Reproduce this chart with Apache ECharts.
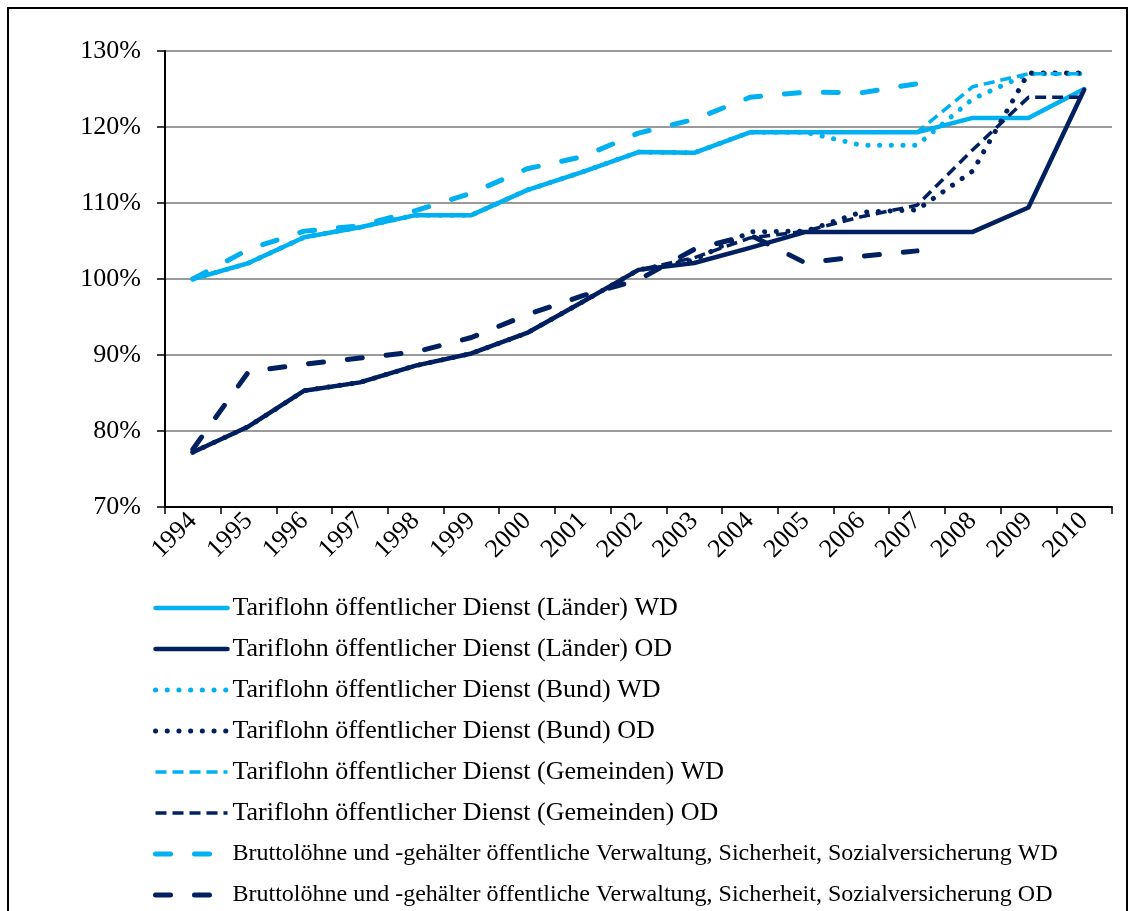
<!DOCTYPE html>
<html>
<head>
<meta charset="utf-8">
<script src="https://cdn.jsdelivr.net/npm/echarts@6/dist/echarts.min.js"></script>
<style>
  html, body { margin: 0; padding: 0; background: #fff; }
  #chart { width: 1130px; height: 911px; }
</style>
</head>
<body>
<div id="chart"></div>
<script>
const years = ['1994', '1995', '1996', '1997', '1998', '1999', '2000', '2001', '2002',
  '2003', '2004', '2005', '2006', '2007', '2008', '2009', '2010']

// Index in %
const laenderWD = [100.0, 102.1, 105.5, 106.8, 108.4, 108.4, 111.7, 114.1, 116.7, 116.6, 119.3, 119.3, 119.3, 119.3, 121.2, 121.2, 125.0]
const laenderOD = [77.2, 80.6, 85.3, 86.4, 88.6, 90.2, 92.9, 97.0, 101.2, 102.1, 104.1, 106.2, 106.2, 106.2, 106.2, 109.4, 124.9]
const bundWD = [100.0, 102.1, 105.5, 106.8, 108.4, 108.4, 111.7, 114.1, 116.7, 116.6, 119.3, 119.3, 117.6, 117.6, 123.7, 127.0, 127.0]
const bundOD = [77.2, 80.6, 85.3, 86.4, 88.6, 90.2, 92.9, 97.0, 101.2, 102.5, 106.2, 106.3, 108.8, 109.1, 114.2, 127.1, 127.1]
const gemWD = [100.0, 102.1, 105.5, 106.8, 108.4, 108.4, 111.7, 114.1, 116.7, 116.6, 119.3, 119.3, 119.3, 119.3, 125.3, 127.0, 127.0]
const gemOD = [77.2, 80.6, 85.3, 86.4, 88.6, 90.2, 92.9, 97.0, 101.2, 102.8, 105.4, 106.3, 108.2, 109.7, 117.0, 123.9, 123.9]
const bruttoWD = [100.0, 103.9, 106.3, 107.0, 109.0, 111.3, 114.5, 116.1, 119.2, 121.0, 123.9, 124.6, 124.5, 125.7, null, null, null]
const bruttoOD = [77.6, 87.8, 88.8, 89.6, 90.4, 92.3, 95.3, 97.8, 99.9, 103.9, 105.8, 102.1, 103.0, 103.7, null, null, null]

const seriesNames = [
  'Tariflohn öffentlicher Dienst (Länder) WD',
  'Tariflohn öffentlicher Dienst (Länder) OD',
  'Tariflohn öffentlicher Dienst (Bund) WD',
  'Tariflohn öffentlicher Dienst (Bund) OD',
  'Tariflohn öffentlicher Dienst (Gemeinden) WD',
  'Tariflohn öffentlicher Dienst (Gemeinden) OD',
  'Bruttolöhne und -gehälter öffentliche Verwaltung, Sicherheit, Sozialversicherung WD',
  'Bruttolöhne und -gehälter öffentliche Verwaltung, Sicherheit, Sozialversicherung OD',
]

const LIGHT = '#00b0f0'
const DARK = '#002060'
const FONT = '"Liberation Serif", "Times New Roman", serif'

const solid = { type: 'solid', width: 4.5, cap: 'round', join: 'round' }
const dotted = { type: [0.1, 11.6], width: 5, cap: 'round', join: 'round' }
const shortDash = { type: [11, 6], width: 3.5, cap: 'butt', join: 'round' }
const longDash = { type: [15, 24], width: 5, cap: 'round', join: 'round' }

function line(name, data, color, style) {
  return {
    name,
    type: 'line',
    data,
    symbol: 'none',
    color,
    lineStyle: { ...style, color },
    emphasis: { disabled: true },
    animation: false,
  }
}

const chart = echarts.init(document.getElementById('chart'))
chart.setOption({
  backgroundColor: '#fff',
  textStyle: { fontFamily: FONT },
  grid: { left: 165, right: 18, top: 51, bottom: 404, containLabel: false },
  xAxis: {
    type: 'category',
    data: years,
    boundaryGap: true,
    axisLine: { lineStyle: { color: '#000', width: 2 } },
    axisTick: { show: true, length: 7, lineStyle: { color: '#000', width: 1.5 } },
    axisLabel: { rotate: 45, color: '#000', fontSize: 26, fontFamily: FONT, margin: 10 },
  },
  yAxis: {
    type: 'value',
    min: 70,
    max: 130,
    interval: 10,
    axisLine: { show: true, lineStyle: { color: '#000', width: 2 } },
    axisTick: { show: true, length: 8, lineStyle: { color: '#000', width: 1.5 } },
    axisLabel: { formatter: '{value}%', color: '#000', fontSize: 26, fontFamily: FONT, margin: 24 },
    splitLine: { lineStyle: { color: '#9a9a9a', width: 2 } },
  },
  legend: {
    orient: 'vertical',
    left: 153,
    top: 595,
    padding: 0,
    itemWidth: 72,
    itemHeight: 14,
    itemGap: 15,
    selectedMode: false,
    lineStyle: { width: 'inherit' },
    itemStyle: { color: 'rgba(0,0,0,0)', borderWidth: 0, opacity: 0 },
    textStyle: { color: '#000', fontSize: 24, fontFamily: FONT, lineHeight: 26 },
    // the Tariflohn rows run a little wider in the original
    data: seriesNames.map((name, i) => (i < 6
      ? { name, textStyle: { fontSize: 26 } }
      : { name })),
  },
  graphic: [{
    type: 'rect',
    shape: { x: 8, y: 8, width: 1119, height: 940 },
    style: { fill: 'none', stroke: '#000', lineWidth: 2 },
    silent: true,
  }],
  series: [
    line(seriesNames[0], laenderWD, LIGHT, solid),
    line(seriesNames[1], laenderOD, DARK, solid),
    line(seriesNames[2], bundWD, LIGHT, dotted),
    line(seriesNames[3], bundOD, DARK, dotted),
    line(seriesNames[4], gemWD, LIGHT, shortDash),
    line(seriesNames[5], gemOD, DARK, shortDash),
    line(seriesNames[6], bruttoWD, LIGHT, longDash),
    line(seriesNames[7], bruttoOD, DARK, longDash),
  ],
})
</script>
</body>
</html>
